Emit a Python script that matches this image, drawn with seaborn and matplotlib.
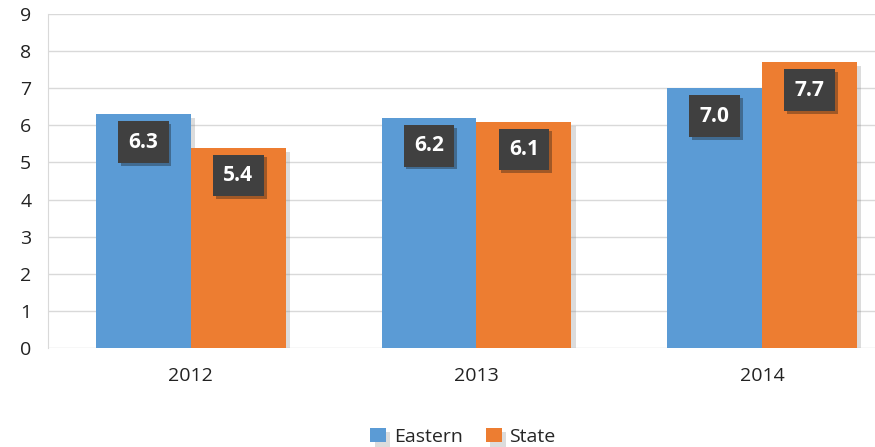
import seaborn as sns
import matplotlib.pyplot as plt
import matplotlib.patheffects as pe
import pandas as pd

years = ["2012", "2013", "2014"]
eastern = [6.3, 6.2, 7.0]
state = [5.4, 6.1, 7.7]
series = ["Eastern", "State"]
colores = ["#5B9BD5", "#ED7D31"]

df = pd.DataFrame({
    "year": years * 2,
    "value": eastern + state,
    "serie": [series[0]] * 3 + [series[1]] * 3,
})

sns.set_style("white")
plt.rcParams['font.family'] = ['Open Sans', 'DejaVu Sans']

fig = plt.figure(figsize=(8.75, 4.47), dpi=100)
ax = fig.add_axes([48 / 875, 1 - 348 / 447, (905 - 48) / 875, (348 - 14) / 447])

sns.barplot(data=df, x="year", y="value", hue="serie", palette=colores,
            width=0.665, saturation=1, ax=ax, zorder=3)

sombra = [pe.SimplePatchShadow(offset=(3, -3), alpha=0.25, shadow_rgbFace="#777777"), pe.Normal()]
for bar in ax.patches:
    bar.set_path_effects(sombra)
    bar.set_edgecolor("none")

# etiquetas en cajas oscuras
for cont in ax.containers:
    for bar in cont:
        h = bar.get_height()
        if h == 0:
            continue
        ax.text(bar.get_x() + bar.get_width() / 2, h - 0.75, f"{h:.1f}",
                ha="center", va="center", color="white", fontsize=15, fontweight="bold",
                zorder=5,
                bbox=dict(boxstyle="square,pad=0.5", facecolor="#404040", edgecolor="none",
                          path_effects=[pe.SimplePatchShadow(offset=(2, -2), alpha=0.35), pe.Normal()]))

ax.set_ylim(0, 9)
ax.set_yticks(range(10))
ax.yaxis.grid(True, color="#d9d9d9", linewidth=1, zorder=0)
ax.set_axisbelow(True)
for s in ["top", "right", "bottom"]:
    ax.spines[s].set_visible(False)
ax.spines["left"].set_color("#d9d9d9")
ax.tick_params(axis="both", length=0, labelsize=14, colors="#222222", pad=12)
ax.tick_params(axis="x", pad=14)
ax.set_xlabel("")
ax.set_ylabel("")

ax.legend(loc="lower center", bbox_to_anchor=(415 / 857, -0.345), ncol=2, frameon=False,
          fontsize=14, handlelength=0.8, handleheight=0.8, handletextpad=0.4, columnspacing=1.2)

fig.savefig("out.png", dpi=100)
